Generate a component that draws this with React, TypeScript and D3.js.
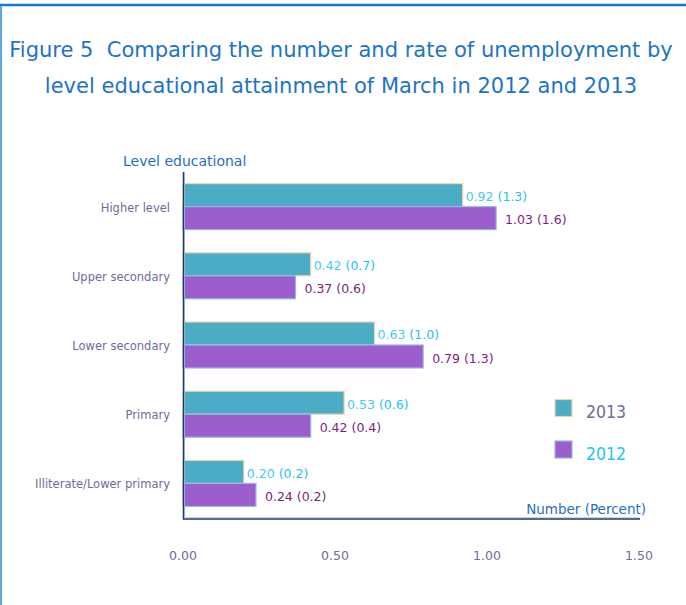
import React from "react";
import * as d3 from "d3";

const categories = [
  "Higher level",
  "Upper secondary",
  "Lower secondary",
  "Primary",
  "Illiterate/Lower primary",
];
const series = ["2013", "2012"];
const number2013 = [0.92, 0.42, 0.63, 0.53, 0.2];
const percent2013 = ["1.3", "0.7", "1.0", "0.6", "0.2"];
const number2012 = [1.03, 0.37, 0.79, 0.42, 0.24];
const percent2012 = ["1.6", "0.6", "1.3", "0.4", "0.2"];
const xTicks = [0, 0.5, 1.0, 1.5];

const W = 686;
const H = 605;
const FONT = "'DejaVu Sans', Verdana, sans-serif";
const FONT_C = "'DejaVu Sans Condensed', 'DejaVu Sans', sans-serif";

const fills: Record<string, string> = { "2013": "#4BACC6", "2012": "#9D5ECD" };
const strokes: Record<string, string> = { "2013": "#F4D3A6", "2012": "#93B7E6" };
const labelColor: Record<string, string> = { "2013": "#22C3F2", "2012": "#7B1E7F" };

export default function App() {
  const x = d3.scaleLinear().domain([0, 1.5]).range([183, 639]);
  const y = d3
    .scaleBand<string>()
    .domain(categories)
    .range([172, 518])
    .paddingInner(0.335)
    .paddingOuter(0.1675);
  const inner = d3.scaleBand<string>().domain(series).range([0, y.bandwidth()]);
  const data: Record<string, { n: number[]; p: string[] }> = {
    "2013": { n: number2013, p: percent2013 },
    "2012": { n: number2012, p: percent2012 },
  };
  const fmt = d3.format(".2f");

  return (
    <svg
      width={W}
      height={H}
      style={{ position: "absolute", left: 0, top: 0, background: "#fff" }}
      fontFamily={FONT}
    >
      {/* frame */}
      <line x1={0} x2={W} y1={5} y2={5} stroke="#1B78C9" strokeWidth={2.5} />
      <line x1={1} x2={1} y1={6} y2={H} stroke="#5BAAE0" strokeWidth={2} />

      {/* title */}
      <text x={341} y={57} textAnchor="middle" fontSize={21} fill="#1C74C6">
        Figure 5{"\u00A0\u00A0"}Comparing the number and rate of unemployment by
      </text>
      <text x={341} y={93} textAnchor="middle" fontSize={21} fill="#1C74C6">
        level educational attainment of March in 2012 and 2013
      </text>

      {/* y axis title */}
      <text x={123} y={166} fontSize={14} fill="#1F6FC5">
        Level educational
      </text>

      {/* bars */}
      {series.map((s) =>
        categories.map((c, i) => {
          const v = data[s].n[i];
          const y0 = (y(c) as number) + (inner(s) as number);
          const bh = inner.bandwidth();
          return (
            <g key={s + c}>
              <rect
                x={x(0)}
                y={y0}
                width={x(v) - x(0)}
                height={bh}
                fill={fills[s]}
                stroke={strokes[s]}
                strokeWidth={1.2}
              />
              {s === "2013" ? (
                <text x={x(v) + 3} y={y0 + bh / 2 + 6} fontSize={12.5} fill={labelColor[s]}>
                  <tspan fill="#45CBF5">{fmt(v)}</tspan>
                  <tspan dx={4}>({data[s].p[i]})</tspan>
                </text>
              ) : (
                <text x={x(v) + 9} y={y0 + bh / 2 + 6} fontSize={12.5} fill={labelColor[s]}>
                  {fmt(v)} ({data[s].p[i]})
                </text>
              )}
            </g>
          );
        })
      )}

      {/* category labels */}
      {categories.map((c) => (
        <text
          key={c}
          x={170}
          y={(y(c) as number) + y.bandwidth() / 2 + 5}
          textAnchor="end"
          fontSize={11.5}
          fill="#6D6C9C"
        >
          {c}
        </text>
      ))}

      {/* axes */}
      <line x1={184.5} x2={184.5} y1={172} y2={517} stroke="#BFD7F2" strokeWidth={1} />
      <line x1={183.5} x2={183.5} y1={172} y2={519.5} stroke="#1F3864" strokeWidth={1.5} />
      <line x1={184} x2={640} y1={517.5} y2={517.5} stroke="#BFD7F2" strokeWidth={1} />
      <line x1={183} x2={640} y1={519} y2={519} stroke="#1F3864" strokeWidth={1.5} />

      {xTicks.map((t) => (
        <text key={t} x={x(t)} y={560} textAnchor="middle" fontSize={12.5} fill="#6D6C9C">
          {fmt(t)}
        </text>
      ))}

      <text x={646} y={514} textAnchor="end" fontSize={13.5} fill="#1F6FC5">
        Number (Percent)
      </text>

      {/* legend */}
      {series.map((s, i) => (
        <g key={s}>
          <rect
            x={555}
            y={399.5 + i * 41.5}
            width={17}
            height={17}
            fill={fills[s]}
            stroke={strokes[s]}
            strokeWidth={1.2}
          />
          <text
            x={586}
            y={418 + i * 41.5}
            fontSize={17.5}
            fontFamily={FONT_C}
            fill={s === "2013" ? "#6D6C9C" : "#22C3F2"}
          >
            {s}
          </text>
        </g>
      ))}
    </svg>
  );
}
